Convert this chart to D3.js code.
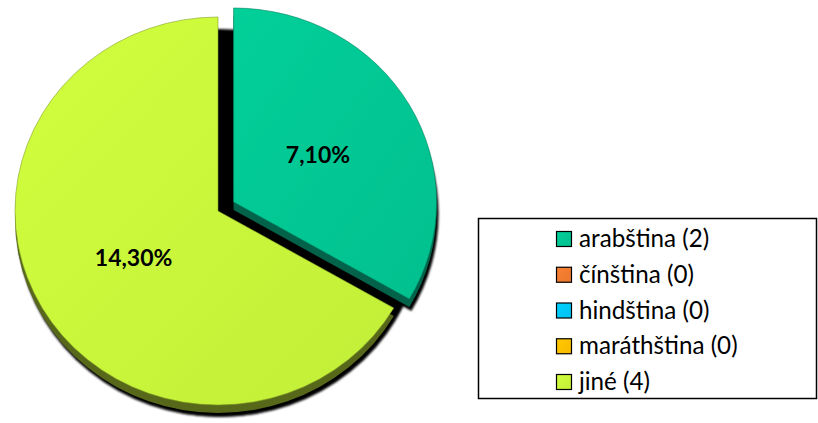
<!DOCTYPE html>
<html>
<head>
<meta charset="utf-8">
<script src="https://cdn.jsdelivr.net/npm/d3@7"></script>
<style>
  body { margin: 0; background: #fff; }
  svg { display: block; }
</style>
</head>
<body>
<div id="chart"></div>
<script>
(function() {

    // chart data
    var categories = ["arabština", "čínština", "hindština", "maráthština", "jiné"],
        counts = [2, 0, 0, 0, 4],
        sliceLabels = ["7,10%", "", "", "", "14,30%"],
        colors = ["#02c693", "#f07b30", "#00c8f6", "#ffc000", "#c8f53a"],
        sideColors = ["#03634a", "#7a3c10", "#006a80", "#806000", "#58681a"]

    var width = 818,
        height = 423

    var svg = d3.select("#chart")
        .append("svg")
        .attr("width", width)
        .attr("height", height)

    var defs = svg.append("defs")

    // soft shadow behind the pie
    defs.append("filter")
        .attr("id", "blur")
        .attr("x", "-10%").attr("y", "-10%")
        .attr("width", "120%").attr("height", "120%")
        .append("feGaussianBlur")
        .attr("stdDeviation", 1.3)

    // light gradient on the faces
    colors.forEach(function(c, i) {
        var g = defs.append("linearGradient")
            .attr("id", "grad" + i)
            .attr("x1", "0%").attr("y1", "0%")
            .attr("x2", "100%").attr("y2", "100%")
        g.append("stop").attr("offset", "0%").attr("stop-color", d3.color(c).brighter(0.12))
        g.append("stop").attr("offset", "100%").attr("stop-color", d3.color(c).darker(0.08))
    })

    // pie geometry
    var cx = 218, cy = 211,
        rx = 203, ry = 194,
        depth = 8,
        explode = 18,
        shadowDx = 2, shadowDy = 12

    var pie = d3.pie().sort(null).value(function(d) { return d; })
    var arcs = pie(counts).filter(function(d) { return d.value > 0; })

    var arc = d3.arc().innerRadius(0).outerRadius(rx)

    function offset(d) {
        if (d.index !== 0) return [0, 0];
        var mid = (d.startAngle + d.endAngle) / 2;
        return [explode * Math.sin(mid), -explode * Math.cos(mid)];
    }

    function place(d, dx, dy) {
        var o = offset(d);
        return "translate(" + (cx + o[0] + dx) + "," + (cy + o[1] + dy) + ") scale(1," + (ry / rx) + ")";
    }

    // shadow layer (slices in place and pulled out)
    var shadow = svg.append("g").attr("filter", "url(#blur)")
    shadow.selectAll("path.base")
        .data(arcs)
        .enter()
        .append("path")
        .attr("d", arc)
        .attr("fill", "#000")
        .attr("transform", "translate(" + (cx + shadowDx) + "," + (cy + shadowDy) + ") scale(1," + (ry / rx) + ")")
    shadow.selectAll("path.moved")
        .data(arcs)
        .enter()
        .append("path")
        .attr("d", arc)
        .attr("fill", "#000")
        .attr("transform", function(d) { return place(d, shadowDx, shadowDy); })

    // side of the slices
    svg.append("g")
        .selectAll("path")
        .data(arcs)
        .enter()
        .append("path")
        .attr("d", arc)
        .attr("fill", function(d) { return sideColors[d.index]; })
        .attr("transform", function(d) { return place(d, 0, depth); })

    // top faces
    svg.append("g")
        .selectAll("path")
        .data(arcs)
        .enter()
        .append("path")
        .attr("d", arc)
        .attr("fill", function(d) { return "url(#grad" + d.index + ")"; })
        .attr("stroke", function(d) { return d3.color(colors[d.index]).darker(1.2); })
        .attr("stroke-width", 0.6)
        .attr("transform", function(d) { return place(d, 0, 0); })

    // percentage labels
    var labelArc = d3.arc().innerRadius(0).outerRadius(rx * 0.96)
    svg.append("g")
        .selectAll("text")
        .data(arcs)
        .enter()
        .append("text")
        .attr("x", function(d) { return cx + offset(d)[0] + labelArc.centroid(d)[0]; })
        .attr("y", function(d) { return cy + offset(d)[1] + labelArc.centroid(d)[1] * ry / rx + 8; })
        .attr("text-anchor", "middle")
        .attr("font-family", "Lato, sans-serif")
        .attr("font-weight", "bold")
        .attr("font-size", 23)
        .attr("fill", "#000")
        .text(function(d) { return sliceLabels[d.index]; })

    // legend
    var legend = svg.append("g")
    legend.append("rect")
        .attr("x", 478.5).attr("y", 218.5)
        .attr("width", 338).attr("height", 180)
        .attr("fill", "#fff")
        .attr("stroke", "#000")
        .attr("stroke-width", 1.5)

    var rowY = d3.scalePoint()
        .domain(categories)
        .range([239, 382])

    var item = legend.selectAll("g.item")
        .data(categories)
        .enter()
        .append("g")
        .attr("transform", function(d) { return "translate(556," + rowY(d) + ")"; })

    item.append("rect")
        .attr("x", 0.5).attr("y", -7.5)
        .attr("width", 15).attr("height", 15)
        .attr("fill", function(d, i) { return "url(#grad" + i + ")"; })
        .attr("stroke", "#000")
        .attr("stroke-width", 1.2)

    item.append("text")
        .attr("x", 23)
        .attr("y", 8)
        .attr("font-family", "Lato, sans-serif")
        .attr("font-size", 24.2)
        .attr("fill", "#000")
        .text(function(d, i) { return d + " (" + counts[i] + ")"; })

})();
</script>
</body>
</html>
